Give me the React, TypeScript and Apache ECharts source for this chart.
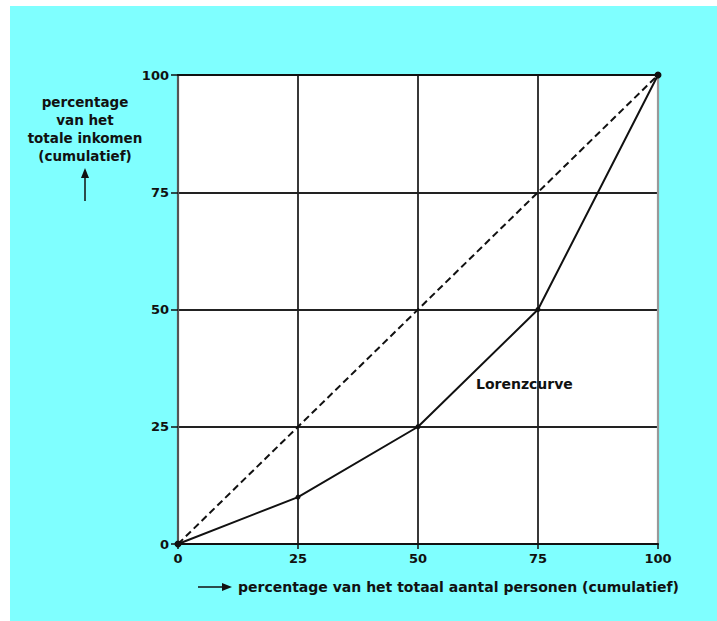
import React, { useEffect, useRef } from "react";
import * as echarts from "echarts";

const populationShare = [0, 25, 50, 75, 100];
const lorenzIncomeShare = [0, 10, 25, 50, 100];
const equalityIncomeShare = [0, 25, 50, 75, 100];
const yAxisNameLines = ["percentage", "van het", "totale inkomen", "(cumulatief)"];
const xAxisName = "percentage van het totaal aantal personen (cumulatief)";
const curveLabel = "Lorenzcurve";

const FONT = "DejaVu Sans";

export default function App() {
  const ref = useRef<HTMLDivElement>(null);
  useEffect(() => {
    if (!ref.current) return;
    const chart = echarts.init(ref.current, null, { renderer: "svg" });
    const lorenz = populationShare.map((x, i) => [x, lorenzIncomeShare[i]]);
    const equality = populationShare.map((x, i) => [x, equalityIncomeShare[i]]);
    const gLeft = 168, gTop = 69, gW = 480, gH = 469;
    chart.setOption({
      animation: false,
      backgroundColor: "#7fffff",
      grid: { left: gLeft, top: gTop, width: gW, height: gH, show: true, backgroundColor: "#ffffff", borderWidth: 0 },
      xAxis: [
        {
          type: "value", min: 0, max: 100, interval: 25, position: "bottom",
          axisLine: { show: true, lineStyle: { color: "#111", width: 2 } },
          axisTick: { show: true, length: 5, lineStyle: { color: "#111", width: 1.5 } },
          axisLabel: { color: "#111", fontFamily: FONT, fontWeight: "bold", fontSize: 13, margin: 8 },
          splitLine: { show: true, lineStyle: { color: "#222", width: 1.8 } },
        },
        {
          type: "value", min: 0, max: 100, position: "top",
          axisLine: { show: true, onZero: false, lineStyle: { color: "#111", width: 2.2 } },
          axisTick: { show: false }, axisLabel: { show: false }, splitLine: { show: false },
        },
      ],
      yAxis: [
        {
          type: "value", min: 0, max: 100, interval: 25, position: "left",
          axisLine: { show: true, lineStyle: { color: "#555", width: 2.2 } },
          axisTick: { show: true, length: 7, lineStyle: { color: "#111", width: 1.5 } },
          axisLabel: { color: "#111", fontFamily: FONT, fontWeight: "bold", fontSize: 13, margin: 9 },
          splitLine: { show: true, lineStyle: { color: "#222", width: 1.8 } },
        },
        {
          type: "value", min: 0, max: 100, position: "right",
          axisLine: { show: true, onZero: false, lineStyle: { color: "#999", width: 2.2 } },
          axisTick: { show: false }, axisLabel: { show: false }, splitLine: { show: false },
        },
      ],
      series: [
        {
          type: "line", data: equality, xAxisIndex: 0, yAxisIndex: 0,
          symbol: "none", silent: true,
          lineStyle: { color: "#111", width: 2, type: [7, 4] },
        },
        {
          type: "line", data: lorenz, xAxisIndex: 0, yAxisIndex: 0,
          symbol: "circle",
          symbolSize: (v: number[]) => (v[0] === 0 || v[0] === 100 ? 7 : 5),
          itemStyle: { color: "#111" },
          lineStyle: { color: "#111", width: 2 },
        },
      ],
      graphic: [
        {
          type: "text", x: 75, y: 87,
          style: {
            text: yAxisNameLines.join("\n"), align: "center", verticalAlign: "top",
            font: `bold 13.5px "${FONT}"`, fill: "#111", lineHeight: 18,
          },
        },
        { type: "line", shape: { x1: 75, y1: 195, x2: 75, y2: 168 }, style: { stroke: "#111", lineWidth: 1.5 } },
        { type: "polygon", shape: { points: [[71, 172], [79, 172], [75, 162]] }, style: { fill: "#111" } },
        { type: "line", shape: { x1: 188, y1: 581, x2: 214, y2: 581 }, style: { stroke: "#111", lineWidth: 1.5 } },
        { type: "polygon", shape: { points: [[212, 577], [212, 585], [222, 581]] }, style: { fill: "#111" } },
        {
          type: "text", x: 228, y: 581,
          style: { text: xAxisName, verticalAlign: "middle", font: `bold 14px "${FONT}"`, fill: "#111" },
        },
        {
          type: "text", x: 466, y: 378,
          style: { text: curveLabel, verticalAlign: "middle", font: `bold 14px "${FONT}"`, fill: "#111" },
        },
      ],
    });
    return () => chart.dispose();
  }, []);
  return (
    <div
      ref={ref}
      style={{ position: "absolute", left: 10, top: 6, width: 707, height: 615 }}
    />
  );
}
